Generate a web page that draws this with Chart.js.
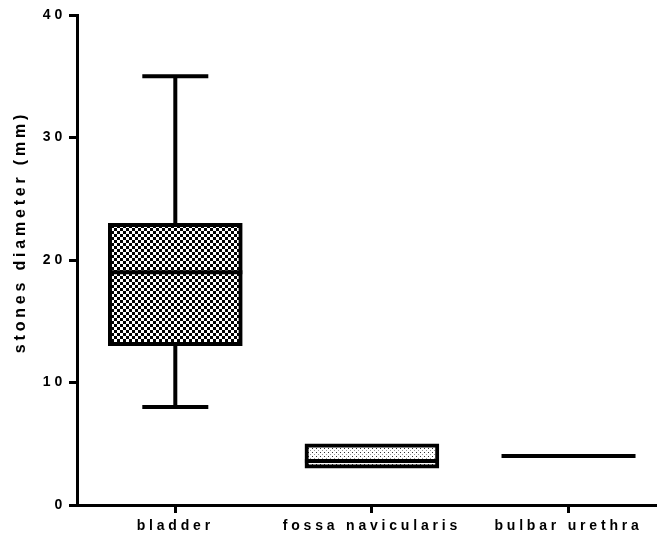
<!DOCTYPE html>
<html>
<head>
<meta charset="utf-8">
<script src="https://cdn.jsdelivr.net/npm/chart.js@4"></script>
<style>
  html, body { margin: 0; padding: 0; background: #fff; }
  #wrap { width: 657px; height: 537px; }
</style>
</head>
<body>
<div id="wrap"><canvas id="chart"></canvas></div>
<script>
const categories = ['bladder', 'fossa navicularis', 'bulbar urethra'];
const minVals = [8, 3, 4];
const q1Vals = [13, 3, 4];
const medianVals = [19, 3.6, 4];
const q3Vals = [23, 5, 4];
const maxVals = [35, 5, 4];
const yTicks = [0, 10, 20, 30, 40];
const yTitle = 'stones diameter (mm)';

function makePattern(size, draw) {
  const c = document.createElement('canvas');
  c.width = size[0];
  c.height = size[1];
  const g = c.getContext('2d');
  g.fillStyle = '#fff';
  g.fillRect(0, 0, c.width, c.height);
  g.fillStyle = '#000';
  draw(g);
  return g.createPattern(c, 'repeat');
}

const checker = makePattern([6, 6], function(g) {
  g.fillRect(0, 0, 3, 3);
  g.fillRect(3, 3, 3, 3);
});
const dots = makePattern([4, 4], function(g) {
  g.fillStyle = '#333';
  g.fillRect(0, 0, 1, 1);
  g.fillStyle = '#999';
  g.fillRect(2, 2, 1, 1);
});

const whiskers = {
  id: 'whiskers',
  beforeDraw(chart) {
    chart.ctx.letterSpacing = '3.8px';
  },
  afterDatasetsDraw(chart) {
    const ctx = chart.ctx;
    const xs = chart.scales.x, ys = chart.scales.y;
    const meta = chart.getDatasetMeta(0);
    ctx.save();
    ctx.strokeStyle = '#000';
    ctx.lineWidth = 4;
    ctx.lineCap = 'butt';
    for (let i = 0; i < categories.length; i++) {
      const x = xs.getPixelForValue(i);
      const half = meta.data[i].width / 2;
      const capHalf = 33;
      ctx.beginPath();
      if (maxVals[i] > q3Vals[i]) {
        ctx.moveTo(x, ys.getPixelForValue(q3Vals[i]));
        ctx.lineTo(x, ys.getPixelForValue(maxVals[i]));
        ctx.moveTo(x - capHalf, ys.getPixelForValue(maxVals[i]));
        ctx.lineTo(x + capHalf, ys.getPixelForValue(maxVals[i]));
      }
      if (minVals[i] < q1Vals[i]) {
        ctx.moveTo(x, ys.getPixelForValue(q1Vals[i]));
        ctx.lineTo(x, ys.getPixelForValue(minVals[i]));
        ctx.moveTo(x - capHalf, ys.getPixelForValue(minVals[i]));
        ctx.lineTo(x + capHalf, ys.getPixelForValue(minVals[i]));
      }
      const my = ys.getPixelForValue(medianVals[i]);
      ctx.moveTo(x - half, my);
      ctx.lineTo(x + half, my);
      ctx.stroke();
    }
    ctx.restore();
  },
  afterDraw(chart) {
    // y axis title, placed a little above the axis middle like the original
    const ctx = chart.ctx;
    ctx.save();
    ctx.translate(21, 232);
    ctx.rotate(-Math.PI / 2);
    ctx.font = 'bold 16px "Liberation Sans"';
    ctx.fillStyle = '#000';
    ctx.textAlign = 'center';
    ctx.textBaseline = 'middle';
    ctx.fillText(yTitle, 0, 0);
    ctx.restore();
  }
};

const config = {
  type: 'bar',
  data: {
    datasets: [{
      data: categories.map(function(c, i) { return { x: i, y: [q1Vals[i], q3Vals[i]] }; }),
      backgroundColor: [checker, dots, '#fff'],
      borderColor: '#000',
      borderWidth: 4,
      borderSkipped: false,
      barThickness: 134
    }]
  },
  options: {
    responsive: true,
    maintainAspectRatio: false,
    animation: false,
    events: [],
    layout: { padding: { top: 15, right: 0, left: 0, bottom: 0 } },
    plugins: { legend: { display: false }, tooltip: { enabled: false } },
    scales: {
      x: {
        type: 'linear',
        min: -0.5,
        max: 2.45,
        offset: false,
        afterBuildTicks: function(scale) {
          scale.ticks = categories.map(function(c, i) { return { value: i }; });
        },
        afterFit: function(scale) { scale.height = 32; },
        grid: { display: true, offset: false, drawOnChartArea: false, drawTicks: true, tickLength: 8, tickWidth: 3, tickColor: '#000' },
        border: { display: true, color: '#000', width: 3 },
        ticks: {
          color: '#000',
          padding: 5,
          maxRotation: 0,
          autoSkip: false,
          font: { family: 'Liberation Sans', weight: 'bold', size: 14 },
          callback: function(v) { return categories[v]; }
        }
      },
      y: {
        min: 0,
        max: 40,
        afterBuildTicks: function(scale) {
          scale.ticks = yTicks.map(function(v) { return { value: v }; });
        },
        afterFit: function(scale) { scale.width = 77; },
        grid: { display: true, drawOnChartArea: false, drawTicks: true, tickLength: 8, tickWidth: 3, tickColor: '#000' },
        border: { display: true, color: '#000', width: 3 },
        ticks: {
          color: '#000',
          padding: 3,
          font: { family: 'Liberation Sans', weight: 'bold', size: 14 }
        }
      }
    }
  },
  plugins: [whiskers]
};

const myChart = new Chart(document.getElementById('chart'), config);
</script>
</body>
</html>
